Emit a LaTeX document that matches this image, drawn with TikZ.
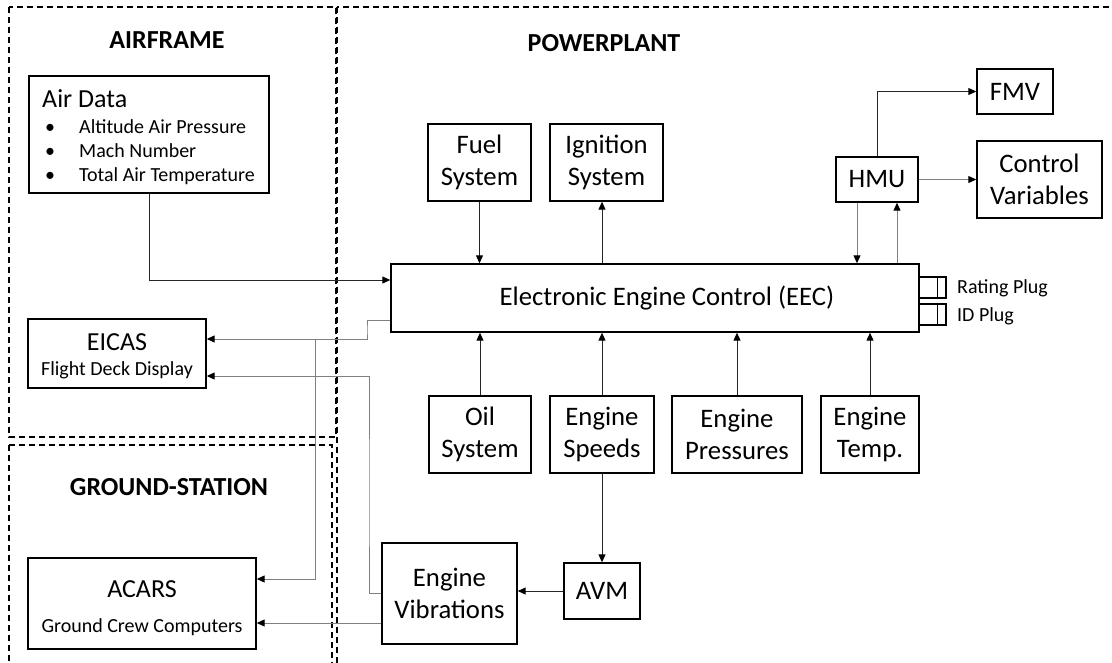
\documentclass[tikz,border=0pt]{standalone}
\usepackage{fontspec}
\setmainfont{Carlito}
\usetikzlibrary{arrows.meta,calc}
\tikzset{
  box/.style={draw=black,line width=1.4pt,rectangle,inner sep=0pt,align=center,font=\fontsize{26.7}{32}\selectfont},
  frame/.style={draw=black,line width=1.3pt,dash pattern=on 6pt off 4pt},
  title/.style={font=\fontsize{26}{30}\selectfont\bfseries,inner sep=0pt},
  conn/.style={draw=black!85,line width=1pt,-{Triangle[length=8pt,width=7pt,color=black]}},
  gconn/.style={draw=black!50,line width=1pt,-{Triangle[length=8pt,width=7pt,color=black]}},
  small/.style={font=\fontsize{20}{24}\selectfont,inner sep=0pt},
  big/.style={font=\fontsize{26}{30}\selectfont,inner sep=0pt},
  plug/.style={draw=black,line width=1.2pt,rectangle,inner sep=0pt,minimum width=27pt,minimum height=21pt}
}
\begin{document}
\begin{tikzpicture}[x=1pt,y=-1pt]
\useasboundingbox (0,0) rectangle (1112,662);
% frames
\draw[frame] (9,7) rectangle (336,437);
\draw[frame] (337,7) rectangle (1130,700);
\draw[frame] (9,445) rectangle (332,700);
\node[title] (tair) at (167,40) {AIRFRAME};
\node[title] (tpow) at (604,43) {POWERPLANT};
\node[title] (tgnd) at (169,487) {GROUND-STATION};
% air data
\node[box,minimum width=240pt,minimum height=117pt] (airdata) at (149,134.5) {};
\node[big,anchor=base west] (adt) at (42,107.5) {Air Data};
\node[small,anchor=base west] (b1) at (45,133.5) {\textbullet};
\node[small,anchor=base west] (b2) at (45,157.5) {\textbullet};
\node[small,anchor=base west] (b3) at (45,181.5) {\textbullet};
\node[small,anchor=base west] (i1) at (79,133.5) {Altitude Air Pressure};
\node[small,anchor=base west] (i2) at (79,157.5) {Mach Number};
\node[small,anchor=base west] (i3) at (79,181.5) {Total Air Temperature};
% eicas, acars
\node[box,minimum width=178pt,minimum height=69pt] (eicas) at (117,353.5) {};
\node[big,anchor=base] (eicast) at (117,350.5) {EICAS};
\node[small,anchor=base] (eicass) at (117,375.5) {Flight Deck Display};
\node[box,minimum width=228pt,minimum height=91pt] (acars) at (142,603.5) {};
\node[big,anchor=base] (acarst) at (142,597.5) {ACARS};
\node[small,anchor=base] (acarss) at (142,632) {Ground Crew Computers};
% powerplant boxes
\node[box,minimum width=103pt,minimum height=77pt] (fuel) at (479.5,162.5) {Fuel\\System};
\node[box,minimum width=113pt,minimum height=77pt] (ign) at (606.5,162.5) {Ignition\\System};
\node[box,minimum width=528pt,minimum height=68pt] (eec) at (655,298) {\hspace*{24pt}Electronic Engine Control (EEC)};
\node[box,minimum width=102pt,minimum height=77pt] (oil) at (480,434.5) {Oil\\System};
\node[box,minimum width=104pt,minimum height=77pt] (speeds) at (602,434.5) {Engine\\Speeds};
\node[box,minimum width=130pt,minimum height=77pt] (press) at (737,434.5) {Engine\\Pressures};
\node[box,minimum width=98pt,minimum height=77pt] (temp) at (870,434.5) {Engine\\Temp.};
\node[box,minimum width=82pt,minimum height=45pt] (hmu) at (877,179.5) {HMU};
\node[box,minimum width=76pt,minimum height=45pt] (fmv) at (1015,91.5) {FMV};
\node[box,minimum width=125pt,minimum height=77pt] (ctrl) at (1039.5,179.5) {Control\\Variables};
\node[box,minimum width=76pt,minimum height=56pt] (avm) at (602,591) {AVM};
\node[box,minimum width=135pt,minimum height=101pt] (vib) at (449.5,593.5) {Engine\\Vibrations};
% plugs
\node[plug] (rating) at (932.5,287.5) {};
\node[plug] (idp) at (932.5,314.5) {};
\draw[line width=1pt] ([xshift=4.5pt]rating.north) -- ([xshift=4.5pt]rating.south);
\draw[line width=1pt] ([xshift=4.5pt]idp.north) -- ([xshift=4.5pt]idp.south);
\node[small,anchor=west] (ratingl) at (957,288) {Rating Plug};
\node[small,anchor=west] (idl) at (957,316) {ID Plug};
% coordinates
\coordinate (ignfoot) at ([xshift=-4.5pt]ign.south);
\coordinate (hmuL) at ([xshift=-20pt]hmu.south);
\coordinate (hmuR) at ([xshift=20pt]hmu.south);
\coordinate (eecbend) at (367,330);
\coordinate (split) at (315,339);
\coordinate (vbend) at (369,500);
% connectors
\draw[conn] (airdata.south) |- ([yshift=18pt]eec.west);
\draw[gconn] ([yshift=-22pt]eec.west) -| (eecbend) |- ([yshift=14.5pt]eicas.east);
\draw[gconn] (split) |- ([yshift=24.5pt]acars.east);
\draw[gconn] (vib.west) -| (vbend) |- ([yshift=-22.5pt]eicas.east);
\draw[gconn] ([yshift=-29.5pt]vib.west) -- ([yshift=-29.5pt]vib.west -| acars.east);
\draw[conn] (avm.west) -- (avm.west -| vib.east);
\draw[conn] (speeds.south) -- (avm.north);
\draw[conn] (fuel.south) -- (fuel.south |- eec.north);
\draw[conn] (ignfoot |- eec.north) -- (ignfoot);
\draw[gconn] (hmuL) -- (hmuL |- eec.north);
\draw[gconn] (hmuR |- eec.north) -- (hmuR);
\draw[conn] (hmu.north) |- (fmv.west);
\draw[gconn] (hmu.east) -- (ctrl.west);
\draw[conn] (oil.north) -- (oil.north |- eec.south);
\draw[conn] (speeds.north) -- (speeds.north |- eec.south);
\draw[conn] (press.north) -- (press.north |- eec.south);
\draw[conn] (temp.north) -- (temp.north |- eec.south);
\end{tikzpicture}
\end{document}
